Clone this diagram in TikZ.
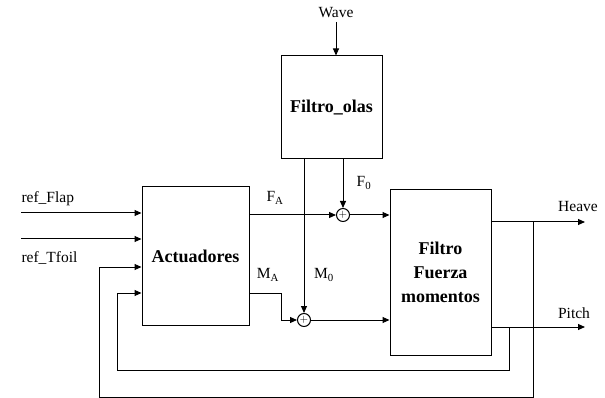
\documentclass[tikz,border=0pt]{standalone}
\usepackage{fontspec}
\setmainfont{Liberation Serif}
\usetikzlibrary{arrows.meta}
\begin{document}
\begin{tikzpicture}[x=1pt,y=-1pt,
  line width=1pt,
  blk/.style={draw,rectangle,inner sep=0pt,align=center,font=\fontsize{18}{24}\selectfont\bfseries},
  sumc/.style={draw,circle,minimum size=13pt,inner sep=0pt,font=\fontsize{11}{11}\selectfont},
  lbl/.style={inner sep=0pt,font=\fontsize{15.5}{17}\selectfont},
  arr/.style={-{Triangle[length=7pt,width=6pt]}}]
\useasboundingbox (0,0) rectangle (605,398);
\node[blk,minimum width=107pt,minimum height=138pt] (act) at (195.5,256) {Actuadores};
\node[blk,minimum width=101pt,minimum height=103pt] (olas) at (331.5,107.5) {Filtro\_olas};
\node[blk,minimum width=101pt,minimum height=165pt] (filt) at (440.5,272.5) {Filtro\\Fuerza\\momentos};
\node[sumc] (s1) at (343,215) {$+$};
\node[sumc] (s2) at (304,320) {$+$};
% labels
\node[lbl,anchor=west] (lflap) at (21,199) {ref\_Flap};
\node[lbl,anchor=west] (ltfoil) at (21,258) {ref\_Tfoil};
\node[lbl] (wave) at (336,13) {Wave};
\node[lbl] (lfa) at (275,198) {F\textsubscript{A}};
\node[lbl] (lf0) at (364,183) {F\textsubscript{0}};
\node[lbl] (lma) at (268,275) {M\textsubscript{A}};
\node[lbl] (lm0) at (324,275) {M\textsubscript{0}};
\node[lbl] (lheave) at (578,207) {Heave};
\node[lbl] (lpitch) at (574,313) {Pitch};
% coordinates
\coordinate (inflap) at (21,213);
\coordinate (intfoil) at (21,239);
\coordinate (wtop) at (336,22);
\coordinate (heaveout) at (585,222);
\coordinate (pitchout) at (585,327);
% inputs
\draw[arr] (inflap) -- (inflap -| act.west);
\draw[arr] (intfoil) -- (intfoil -| act.west);
\draw[arr] (wtop) -- (wtop |- olas.north);
% F_A to sum1
\draw[arr] (act.east |- s1) -- (s1.west);
\draw[arr] (olas.south -| s1) -- (s1.north);
\draw[arr] (s1.east) -- (s1 -| filt.west);
% M_A to sum2
\draw[arr] (act.east |- 0,293) -- (281,293) -- (281,320) -- (s2.west);
\draw[arr] (olas.south -| s2) -- (s2.north);
\draw[arr] (s2.east) -- (s2 -| filt.west);
% outputs
\draw[arr] (filt.east |- heaveout) -- (heaveout);
\draw[arr] (filt.east |- pitchout) -- (pitchout);
% feedback
\draw[arr] (533,222) -- (533,397) -- (99,397) -- (99,267) -- (act.west |- 0,267);
\draw[arr] (509,327) -- (509,370) -- (117,370) -- (117,293) -- (act.west |- 0,293);
\end{tikzpicture}
\end{document}
